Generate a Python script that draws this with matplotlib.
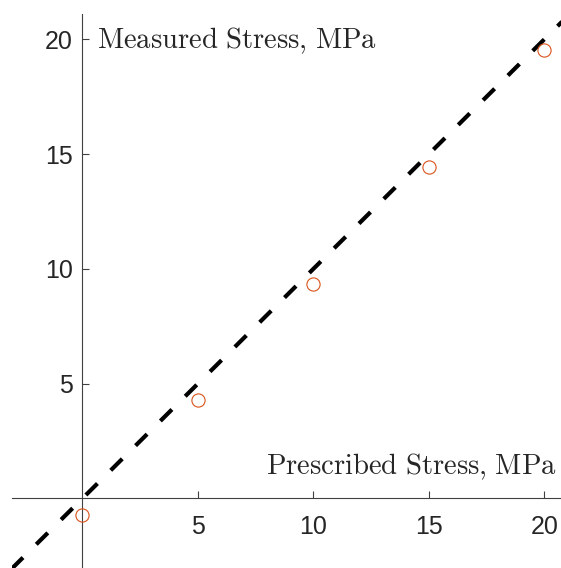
import matplotlib
matplotlib.use("Agg")
import matplotlib.pyplot as plt
import numpy as np

plt.rcParams['mathtext.fontset'] = 'cm'

prescribed = [0, 5, 10, 15, 20]
measured = [-0.72, 4.3, 9.35, 14.45, 19.55]
ref_line = [-4, 22]
xticks = [5, 10, 15, 20]
yticks = [5, 10, 15, 20]
xlabel = r"$\mathrm{Prescribed\ Stress{,}\ MPa}$"
ylabel = r"$\mathrm{Measured\ Stress{,}\ MPa}$"

W, H = 561, 568
fig = plt.figure(figsize=(W/100, H/100), dpi=100)
ax = fig.add_axes([12/W, 0, 549/W, (H-14)/H])
ax.set_xlim(-3.05, 20.72)
ax.set_ylim(-3.03, 21.1)

ax.plot(ref_line, ref_line, color='black', lw=3, dashes=(3.9, 4.5), solid_capstyle='butt', dash_capstyle='butt', zorder=2)
ax.plot(prescribed, measured, linestyle='none', marker='o', markersize=9.5,
        markerfacecolor='none', markeredgecolor='#D95319', markeredgewidth=0.8, zorder=3)

for s in ['top', 'right']:
    ax.spines[s].set_visible(False)
ax.spines['left'].set_position(('data', 0))
ax.spines['bottom'].set_position(('data', 0))
for s in ['left', 'bottom']:
    ax.spines[s].set_color('#404040')
    ax.spines[s].set_linewidth(0.8)
    ax.spines[s].set_zorder(1)

ax.set_xticks(xticks)
ax.set_yticks(yticks)
ax.tick_params(direction='in', length=5, width=0.8, color='#404040', labelsize=18,
               labelcolor='#262626')
ax.tick_params(axis='x', pad=12)
ax.tick_params(axis='y', pad=7)
for lab in ax.get_xticklabels() + ax.get_yticklabels():
    lab.set_family('Liberation Sans')

ax.text(0.63, 19.62, ylabel, fontsize=20.6, ha='left', va='baseline', color='#262626')
ax.text(20.55, 1.06, xlabel, fontsize=20.6, ha='right', va='baseline', color='#262626')

fig.savefig('out.png', dpi=100)
